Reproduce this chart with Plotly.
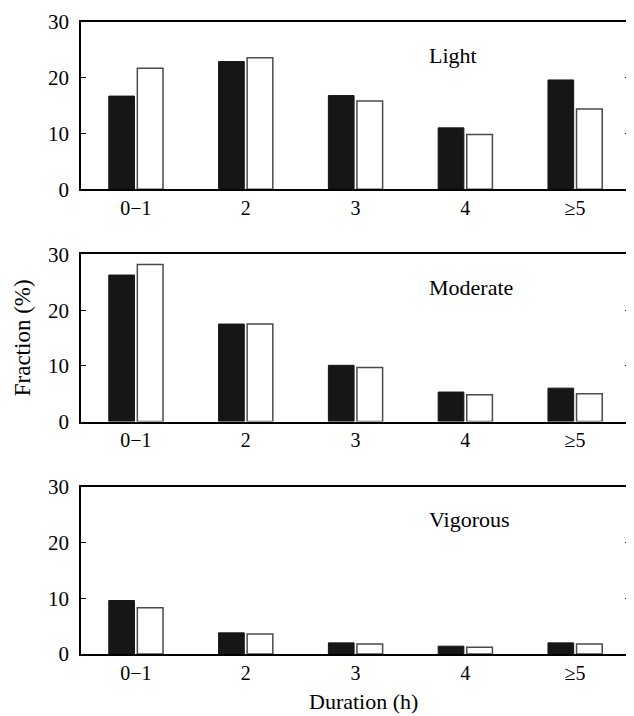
import plotly.graph_objects as go
from plotly.subplots import make_subplots

categories = ["0\u22121", "2", "3", "4", "\u22655"]
panels = ["Light", "Moderate", "Vigorous"]
black_values = {
    "Light": [16.7, 22.9, 16.8, 11.0, 19.6],
    "Moderate": [26.3, 17.5, 10.1, 5.3, 6.0],
    "Vigorous": [9.6, 3.8, 2.0, 1.4, 2.0],
}
white_values = {
    "Light": [21.7, 23.6, 15.8, 9.8, 14.4],
    "Moderate": [28.2, 17.5, 9.7, 4.8, 5.0],
    "Vigorous": [8.3, 3.6, 1.8, 1.2, 1.8],
}
y_ticks = [0, 10, 20, 30]

FONT = "Liberation Serif, Times New Roman, serif"
# page body has an 8px margin, so the figure is sized to fit the 634x716 window
W, H = 626, 708
ML, MR, MT, MB = 73, 2, 7, 62

fig = make_subplots(rows=3, cols=1, shared_xaxes=False)

domains = [(176, 7), (411, 242), (646, 477)]
ph = H - MT - MB

for i, p in enumerate(panels):
    r = i + 1
    fig.add_trace(go.Bar(x=categories, y=black_values[p], marker=dict(color="#161616", line=dict(color="#161616", width=1)), showlegend=False), row=r, col=1)
    fig.add_trace(go.Bar(x=categories, y=white_values[p], marker=dict(color="white", line=dict(color="#4a4a4a", width=1.5)), showlegend=False), row=r, col=1)
    bot, top = domains[i]
    d0 = (H - MB - bot) / ph
    d1 = (H - MB - top) / ph
    ax = "yaxis" if r == 1 else f"yaxis{r}"
    xax = "xaxis" if r == 1 else f"xaxis{r}"
    fig.layout[ax].update(domain=[max(0, d0), min(1, d1)], range=[0, 30], tickvals=y_ticks,
                          ticks="inside", ticklen=5, tickcolor="black", tickwidth=1.2,
                          showline=True, linecolor="black", linewidth=1.5, mirror="ticks",
                          showgrid=False, zeroline=False, ticklabelstandoff=6,
                          tickfont=dict(family=FONT, size=21, color="black"))
    fig.layout[xax].update(range=[-0.5, 4.5], showline=True, linecolor="black", linewidth=1.5,
                           mirror=True, ticks="", showgrid=False, ticklabelstandoff=0,
                           tickfont=dict(family=FONT, size=20, color="black"))
    yref = "y domain" if r == 1 else f"y{r} domain"
    xref = "x domain" if r == 1 else f"x{r} domain"
    fig.add_annotation(text=p, x=0.63, y=1, xref=xref, yref=yref, xanchor="left", yanchor="middle",
                       yshift=-33, showarrow=False, font=dict(family=FONT, size=22, color="black"))

fig.add_annotation(text="Fraction (%)", x=-0.107, y=0.5, xref="paper", yref="paper", textangle=-90,
                   xanchor="center", yanchor="middle", showarrow=False,
                   font=dict(family=FONT, size=23, color="black"))
fig.add_annotation(text="Duration (h)", x=0.515, y=0, xref="paper", yref="paper",
                   xanchor="center", yanchor="middle", yshift=-47, showarrow=False,
                   font=dict(family=FONT, size=22, color="black"))

fig.update_layout(width=W, height=H, margin=dict(l=ML, r=MR, t=MT, b=MB),
                  barmode="group", bargap=0.48, bargroupgap=0.1,
                  plot_bgcolor="white", paper_bgcolor="white")

fig.write_html("out.html")
